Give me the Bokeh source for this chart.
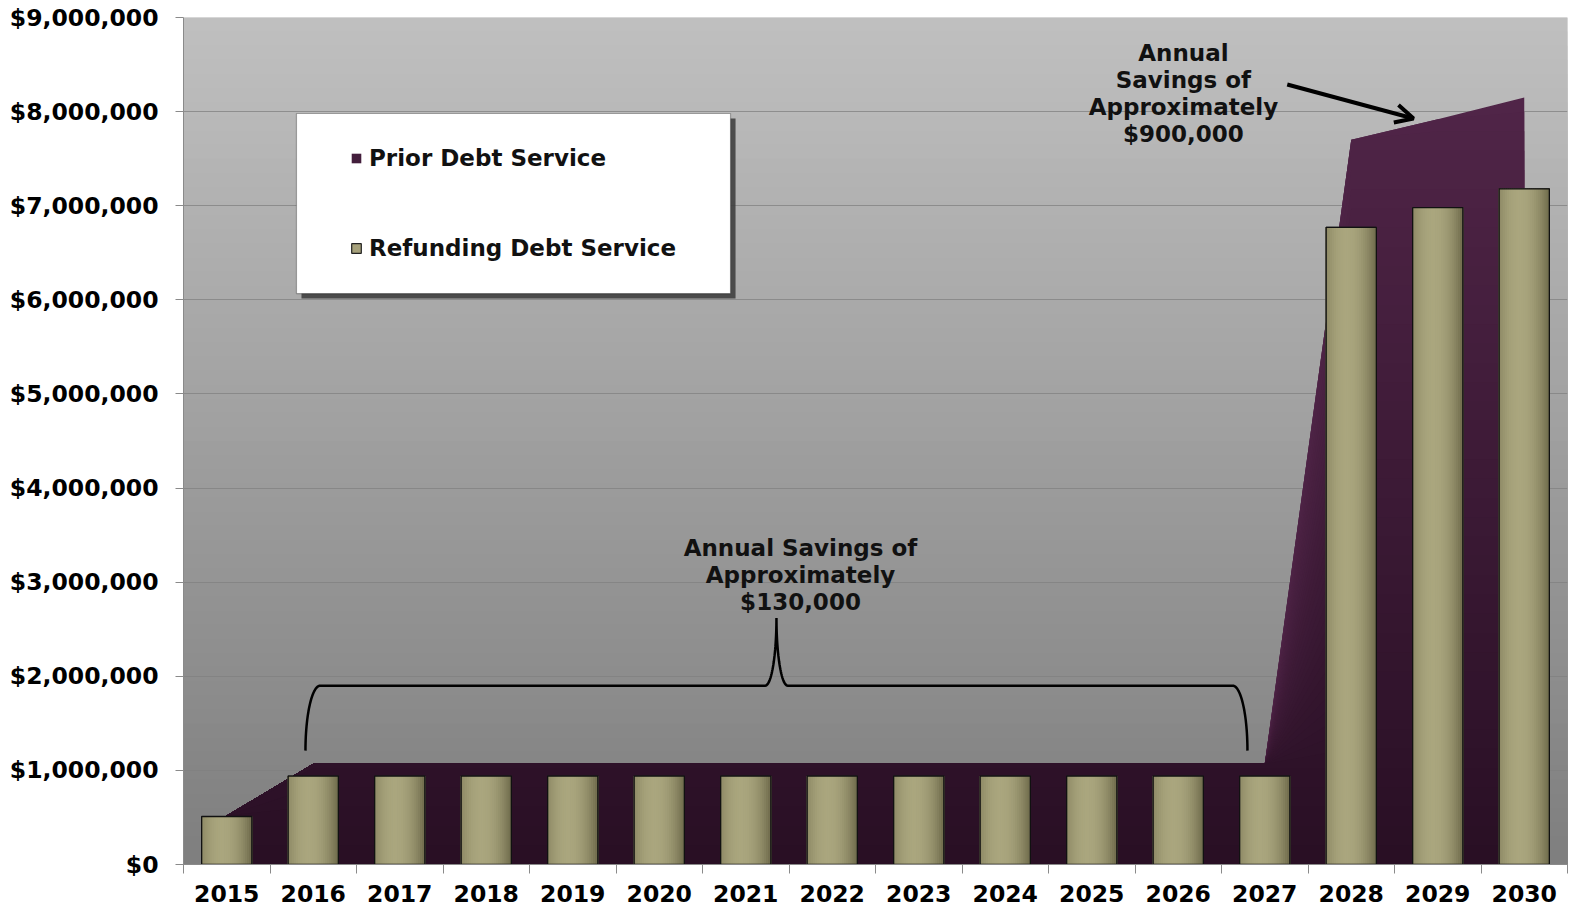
import numpy as np
from bokeh.plotting import figure
from bokeh.models import (ColumnDataSource, FixedTicker, NumeralTickFormatter, BoxAnnotation,
                          Legend, LegendItem, Arrow, OpenHead)
from bokeh.transform import dodge
from bokeh.core.properties import value
from bokeh.embed import file_html
from bokeh.resources import INLINE

# ---------------- data ----------------
years = ["2015", "2016", "2017", "2018", "2019", "2020", "2021", "2022",
         "2023", "2024", "2025", "2026", "2027", "2028", "2029", "2030"]
prior_debt_service = [520000, 1070000, 1070000, 1070000, 1070000, 1070000, 1070000, 1070000,
                      1070000, 1070000, 1070000, 1070000, 1070000, 7700000, 7920000, 8150000]
refunding_debt_service = [510000, 940000, 940000, 940000, 940000, 940000, 940000, 940000,
                          940000, 940000, 940000, 940000, 940000, 6770000, 6980000, 7180000]
y_ticks = [0, 1000000, 2000000, 3000000, 4000000, 5000000, 6000000, 7000000, 8000000, 9000000]
note_small = "Annual Savings of\nApproximately\n$130,000"
note_large = "Annual\nSavings of\nApproximately\n$900,000"

FONT = "DejaVu Sans"
n = len(years)
xc = [i + 0.5 for i in range(n)]
src = ColumnDataSource(dict(x=xc, year=years, prior=prior_debt_service, refund=refunding_debt_service))

p = figure(width=1570, height=908, x_range=(0, n), y_range=(0, 9000000),
           output_backend="svg", toolbar_location=None,
           min_border_left=183, min_border_right=3, min_border_top=17, min_border_bottom=44)
p.outline_line_color = None
p.background_fill_color = "#bebebe"
p.border_fill_color = "white"

def mix(c1, c2, t):
    return "#%02x%02x%02x" % tuple(int(round(a + (b - a) * t)) for a, b in zip(c1, c2))

# ---- background gradient (top light gray -> bottom darker gray) ----
NB = 60
for k in range(NB, 0, -1):
    top = 9000000 * k / NB
    t = (k - 0.5) / NB
    p.add_layout(BoxAnnotation(top=top, fill_color=mix((126, 126, 126), (192, 192, 192), t),
                               fill_alpha=1, line_color=None, level="image"))

# ---- grid ----
p.xgrid.visible = False
p.ygrid.ticker = FixedTicker(ticks=y_ticks)
p.ygrid.grid_line_color = "#808080"
p.ygrid.grid_line_alpha = 0.75
p.ygrid.grid_line_width = 1

# ---- Prior Debt Service area with vertical gradient ----
prior_arr = np.array(prior_debt_service, dtype=float)
NA = 40
amax = 8200000
area_renderers = []
for k in range(NA, 0, -1):
    cap = amax * k / NA if k < NA else 9000000
    t = (k - 0.5) / NA
    col = mix((40, 15, 36), (81, 37, 72), t)
    r = p.varea(x=xc, y1=[0] * n, y2=list(np.minimum(prior_arr, cap)), fill_color=col, fill_alpha=1)
    area_renderers.append(r)
prior_legend_r = area_renderers[NA // 3]

# ---- Refunding Debt Service bars with horizontal shading ----
BW = 0.58
ref_base = p.vbar(x="x", top="refund", width=BW, source=src, fill_color="#a6a17b",
                  line_color="#222222", line_width=1.2)
NS = 24
sw = BW / NS
for s in range(NS):
    t = (s + 0.5) / NS
    f = max(0.0, 1 - ((t - 0.42) / 0.62) ** 2)
    col = mix((104, 100, 70), (170, 166, 126), f)
    off = -BW / 2 + sw * (s + 0.5)
    p.vbar(x=dodge("x", off, range=p.x_range), top="refund", width=sw * 1.6, source=src,
           fill_color=col, line_color=None)
p.vbar(x="x", top="refund", width=BW, source=src, fill_color=None, line_color="#111111", line_width=1.3)

# ---- axes ----
yax = p.yaxis[0]
yax.ticker = FixedTicker(ticks=y_ticks)
yax.formatter = NumeralTickFormatter(format="$0,0")
yax.major_label_text_font = FONT
yax.major_label_text_font_style = "bold"
yax.major_label_text_font_size = "23.5px"
yax.major_label_text_color = "black"
yax.major_label_standoff = 17
yax.major_tick_out = 8
yax.major_tick_in = 0
yax.minor_tick_line_color = None
yax.axis_line_color = "#8a8a8a"
yax.major_tick_line_color = "#8a8a8a"

xax = p.xaxis[0]
xax.ticker = FixedTicker(ticks=xc, minor_ticks=list(range(n + 1)))
xax.major_label_overrides = {c: y for c, y in zip(xc, years)}
xax.major_label_text_font = FONT
xax.major_label_text_font_style = "bold"
xax.major_label_text_font_size = "23.5px"
xax.major_label_text_color = "black"
xax.major_label_standoff = 11
xax.major_tick_line_color = None
xax.major_tick_out = 0
xax.major_tick_in = 0
xax.minor_tick_out = 9
xax.minor_tick_in = 0
xax.minor_tick_line_color = "#8a8a8a"
xax.axis_line_color = "#8a8a8a"

# ---- annotations ----
# brace over the 2016-2027 bars
xl, xr = 1.41, 12.30
xm = (xl + xr) / 2
y_line, y_end, y_peak = 1900000, 1210000, 2620000
erx, mrx = 0.17, 0.13
tt = np.linspace(0, np.pi / 2, 30)
bx = list(xl + erx - erx * np.cos(tt)) + list(xm - mrx + mrx * np.sin(tt)) + \
     list(xm + mrx - mrx * np.sin(tt[::-1])) + list(xr - erx + erx * np.cos(tt[::-1]))
by = list(y_end - (y_end - y_line) * np.sin(tt)) + list(y_peak + (y_line - y_peak) * np.cos(tt)) + \
     list(y_peak + (y_line - y_peak) * np.cos(tt[::-1])) + list(y_end - (y_end - y_line) * np.sin(tt[::-1]))
p.line(bx, by, line_color="black", line_width=2.5)

p.text(x=[7.133], y=[3496000], text=[note_small], text_font=value(FONT), text_font_style="bold",
       text_font_size="23px", text_align="center", text_baseline="top", text_line_height=1.024,
       text_color="#111111")
p.text(x=[11.56], y=[8766000], text=[note_large], text_font=value(FONT), text_font_style="bold",
       text_font_size="23px", text_align="center", text_baseline="top", text_line_height=1.05,
       text_color="#111111")
p.add_layout(Arrow(x_start=12.76, y_start=8288000, x_end=14.22, y_end=7927000,
                   line_width=4, line_color="black",
                   end=OpenHead(size=18, line_width=4, line_color="black")))

# ---- legend box with shadow ----
lx0, lx1, ly0, ly1 = 1.306, 6.324, 6067000, 7980000
p.add_layout(BoxAnnotation(left=lx0 + 0.058, right=lx1 + 0.058, bottom=ly0 - 53000, top=ly1 - 53000,
                           fill_color="#3a3a3a", fill_alpha=0.85, line_color=None, level="annotation"))
p.add_layout(BoxAnnotation(left=lx0, right=lx1, bottom=ly0, top=ly1, fill_color="white", fill_alpha=1,
                           line_color="black", line_width=1.2, level="annotation"))

legend = Legend(items=[LegendItem(label="Prior Debt Service", renderers=[prior_legend_r]),
                       LegendItem(label="Refunding Debt Service", renderers=[ref_base])],
                location=(167, 602), orientation="vertical",
                background_fill_alpha=0, border_line_color=None,
                glyph_width=12, glyph_height=12, label_standoff=7, label_height=28,
                spacing=62, padding=0, margin=0,
                label_text_font=FONT, label_text_font_style="bold", label_text_font_size="23px",
                label_text_color="#111111")
p.add_layout(legend, "center")

open("out.html", "w").write(file_html(p, INLINE))
